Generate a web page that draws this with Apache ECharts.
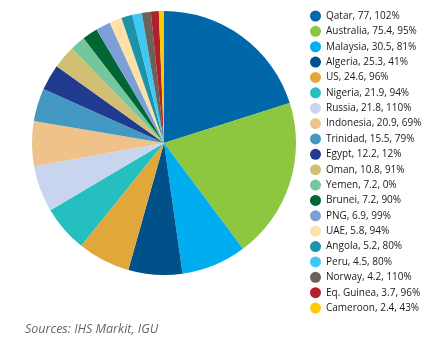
<!DOCTYPE html>
<html><head><meta charset="utf-8">
<script src="https://cdn.jsdelivr.net/npm/echarts@6/dist/echarts.min.js"></script>
<style>html,body{margin:0;padding:0;background:#fff}#c{width:431px;height:345px}</style>
</head><body><div id="c"></div>
<script>
var countries = ["Qatar","Australia","Malaysia","Algeria","US","Nigeria","Russia","Indonesia","Trinidad","Egypt","Oman","Yemen","Brunei","PNG","UAE","Angola","Peru","Norway","Eq. Guinea","Cameroon"];
var capacity = [77,75.4,30.5,25.3,24.6,21.9,21.8,20.9,15.5,12.2,10.8,7.2,7.2,6.9,5.8,5.2,4.5,4.2,3.7,2.4];
var utilisation = ["102%","95%","81%","41%","96%","94%","110%","69%","79%","12%","91%","0%","90%","99%","94%","80%","80%","110%","96%","43%"];
var colors = ["#0067a8","#8dc63f","#00aeef","#00508a","#e2a73a","#26bfc0","#c9d5ee","#efc28a","#4499c4","#1f3a8f","#d3bf74","#74c69c","#006734","#7b9fd6","#fee0a8","#1b93a8","#40c8f4","#6b635a","#b2202a","#fecb00"];

var lookup = {};
countries.forEach(function(n,i){ lookup[n] = n + ", " + capacity[i] + ", " + utilisation[i]; });

var chart = echarts.init(document.getElementById('c'), null, {renderer:'canvas'});
chart.setOption({
  animation:false,
  color: colors,
  legend:{
    orient:'vertical', left:310, top:10.5, padding:0,
    itemWidth:11, itemHeight:11, itemGap:4.37, icon:'circle',
    textStyle:{fontFamily:'Open Sans', fontSize:10, color:'#1a1a1a'},
    formatter:function(n){ return lookup[n]; },
    selectedMode:false
  },
  graphic:[{type:'text', left:25, top:323, style:{text:'Sources: IHS Markit, IGU', fontFamily:'Open Sans', fontStyle:'italic', fontSize:12.5, fill:'#666'}}],
  series:[{
    type:'pie', center:[164,143], radius:[0,132], startAngle:90, clockwise:true,
    label:{show:false}, labelLine:{show:false}, silent:true,
    itemStyle:{borderWidth:0},
    data: countries.map(function(n,i){ return {name:n, value:capacity[i]}; })
  }]
});
</script></body></html>
